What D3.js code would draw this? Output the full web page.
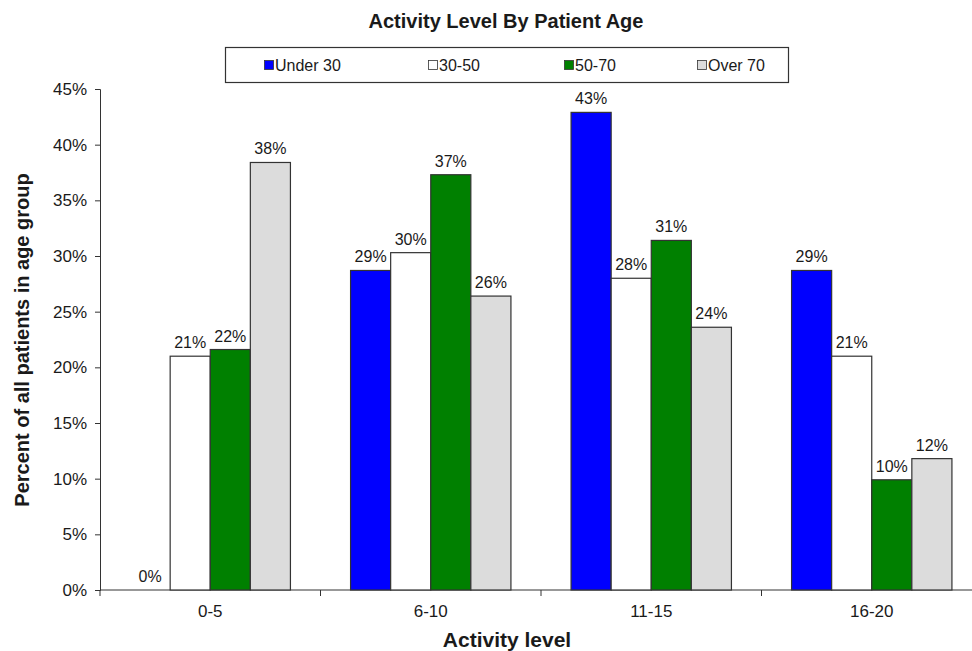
<!DOCTYPE html>
<html>
<head>
<meta charset="utf-8">
<script src="https://cdn.jsdelivr.net/npm/d3@7"></script>
<style>
  body { margin: 0; background: #fff; }
  text { font-family: Arial, "Liberation Sans", sans-serif; fill: #1a1a1a; }
</style>
</head>
<body>
<div id="chart"></div>
<script>
// data
const categories = ['0-5', '6-10', '11-15', '16-20'];
const seriesNames = ['Under 30', '30-50', '50-70', 'Over 70'];
const under30 = [0, 28.7, 42.9, 28.7];
const age30to50 = [21.0, 30.3, 28.0, 21.0];
const age50to70 = [21.6, 37.3, 31.4, 9.9];
const over70 = [38.4, 26.4, 23.6, 11.8];
const yTicks = [0, 5, 10, 15, 20, 25, 30, 35, 40, 45];

const seriesValues = [under30, age30to50, age50to70, over70];
const colors = ['#0000ff', '#ffffff', '#008000', '#dcdcdc'];

const W = 972, H = 651;
const svg = d3.select('#chart').append('svg')
    .attr('width', W)
    .attr('height', H);

// スケール
const x0 = d3.scaleBand()
    .domain(categories)
    .range([100, 982])
    .padding(0);

const x1 = d3.scaleBand()
    .domain(seriesNames)
    .range([0, x0.bandwidth()])
    .paddingInner(0)
    .paddingOuter(0.75);

const y = d3.scaleLinear()
    .domain([0, 45])
    .range([590, 89]);

// タイトル
svg.append('text')
    .attr('x', 506)
    .attr('y', 28)
    .attr('text-anchor', 'middle')
    .style('font-size', '20px')
    .style('font-weight', 'bold')
    .text('Activity Level By Patient Age');

// 凡例
const legend = svg.append('g');
legend.append('rect')
    .attr('x', 225.5)
    .attr('y', 47.5)
    .attr('width', 563)
    .attr('height', 35)
    .attr('fill', '#fff')
    .attr('stroke', '#333')
    .attr('stroke-width', 1.2);

const legendX = [264, 428, 564, 697];
seriesNames.forEach((name, i) => {
    const g = legend.append('g')
        .attr('transform', `translate(${legendX[i]}, 65)`);
    g.append('rect')
        .attr('x', 0.5)
        .attr('y', -4.5)
        .attr('width', 9)
        .attr('height', 9)
        .attr('fill', colors[i])
        .attr('stroke', '#333')
        .attr('stroke-width', 0.8);
    g.append('text')
        .attr('x', 11)
        .attr('y', 6)
        .style('font-size', '16px')
        .text(name);
});

// Y軸
const yAxis = svg.append('g')
    .attr('transform', 'translate(100,0)')
    .call(d3.axisLeft(y).tickValues(yTicks).tickSize(5).tickFormat(d => d + '%'));
yAxis.select('.domain').attr('stroke', '#333');
yAxis.selectAll('.tick line').attr('stroke', '#333');
yAxis.selectAll('.tick text')
    .attr('x', -13)
    .style('font-size', '17px')
    .style('font-family', 'Arial, "Liberation Sans", sans-serif')
    .attr('fill', '#1a1a1a');

// X軸
const xg = svg.append('g')
    .attr('transform', 'translate(0,590)');
xg.append('line')
    .attr('x1', 100).attr('x2', 982)
    .attr('y1', 0).attr('y2', 0)
    .attr('stroke', '#333');
xg.selectAll('.xtick')
    .data(categories.concat(['end']))
    .enter()
    .append('line')
    .attr('x1', (d, i) => i < categories.length ? x0(d) : x0.range()[1])
    .attr('x2', (d, i) => i < categories.length ? x0(d) : x0.range()[1])
    .attr('y1', 0).attr('y2', 6)
    .attr('stroke', '#333');
xg.selectAll('.xlabel')
    .data(categories)
    .enter()
    .append('text')
    .attr('x', d => x0(d) + x0.bandwidth() / 2)
    .attr('y', 27)
    .attr('text-anchor', 'middle')
    .style('font-size', '17px')
    .text(d => d);

// 軸ラベル
svg.append('text')
    .attr('x', 507)
    .attr('y', 647)
    .attr('text-anchor', 'middle')
    .style('font-size', '21px')
    .style('font-weight', 'bold')
    .text('Activity level');

svg.append('text')
    .attr('transform', 'translate(29,340) rotate(-90)')
    .attr('text-anchor', 'middle')
    .style('font-size', '20px')
    .style('font-weight', 'bold')
    .text('Percent of all patients in age group');

// 棒の描画
categories.forEach((cat, ci) => {
    const g = svg.append('g')
        .attr('transform', `translate(${x0(cat)},0)`);
    seriesNames.forEach((s, si) => {
        const v = seriesValues[si][ci];
        if (v > 0) {
            g.append('rect')
                .attr('x', x1(s))
                .attr('y', y(v))
                .attr('width', x1.bandwidth())
                .attr('height', y(0) - y(v))
                .attr('fill', colors[si])
                .attr('stroke', '#333')
                .attr('stroke-width', 1.2);
        }
        g.append('text')
            .attr('x', x1(s) + x1.bandwidth() / 2)
            .attr('y', y(v) - 8)
            .attr('text-anchor', 'middle')
            .style('font-size', '16px')
            .text(Math.round(v) + '%');
    });
});
</script>
</body>
</html>
